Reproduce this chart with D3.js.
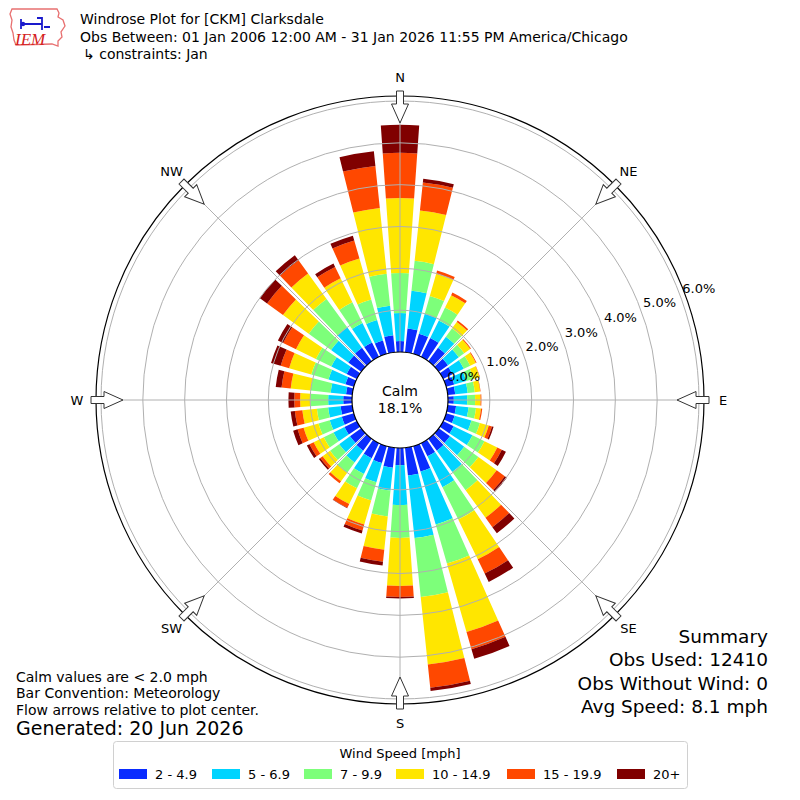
<!DOCTYPE html>
<html><head><meta charset="utf-8">
<script src="https://cdn.jsdelivr.net/npm/d3@7/dist/d3.min.js"></script>
<style>
body{margin:0;background:#fff}
svg{display:block}
text{font-family:"DejaVu Sans",sans-serif;fill:#000}
</style>
</head><body>
<svg id="chart" width="800" height="800"></svg>
<script>
// ---------------- DATA ----------------
const directions = [0,10,20,30,40,50,60,70,80,90,100,110,120,130,140,150,160,170,
                    180,190,200,210,220,230,240,250,260,270,280,290,300,310,320,330,340,350];
const speedBins = ["2 - 4.9","5 - 6.9","7 - 9.9","10 - 14.9","15 - 19.9","20+"];
const binColors = ["#0a2cff","#00d4ff","#7dff7a","#ffe600","#ff4800","#800000"];
// percent of observations per direction, per speed bin
const pct_2_4_9   = [0.26,0.57,0.50,0.50,0.40,0.27,0.25,0.20,0.18,0.14,0.20,0.21,0.28,0.33,0.35,0.35,0.63,0.67,
                     0.41,0.48,0.42,0.40,0.35,0.33,0.33,0.30,0.28,0.21,0.15,0.21,0.27,0.38,0.40,0.38,0.33,0.41];
const pct_5_6_9   = [0.67,0.91,0.50,0.47,0.32,0.32,0.30,0.30,0.30,0.32,0.30,0.42,0.50,0.42,0.63,0.82,1.32,1.50,
                     0.95,0.55,0.48,0.42,0.35,0.32,0.29,0.30,0.30,0.36,0.37,0.42,0.41,0.51,0.60,0.52,0.51,0.71];
const pct_7_9_9   = [0.96,0.72,0.44,0.34,0.25,0.16,0.17,0.18,0.17,0.19,0.18,0.21,0.32,0.42,0.54,0.86,0.97,1.42,
                     0.79,0.62,0.45,0.38,0.30,0.27,0.26,0.28,0.27,0.43,0.48,0.43,0.41,0.66,0.84,0.55,0.51,0.77];
const pct_10_14_9 = [1.79,1.21,0.55,0.33,0.19,0.18,0.15,0.15,0.13,0.13,0.12,0.22,0.34,0.54,0.81,1.06,1.70,1.62,
                     1.15,0.80,0.60,0.42,0.25,0.22,0.27,0.37,0.35,0.24,0.48,0.55,0.53,0.76,0.75,0.64,1.02,1.58];
const pct_15_19_9 = [1.08,0.67,0.08,0.07,0.04,0.02,0.02,0.01,0.01,0.02,0.03,0.08,0.12,0.24,0.28,0.38,0.43,0.56,
                     0.26,0.29,0.15,0.10,0.06,0.07,0.11,0.15,0.18,0.14,0.22,0.21,0.34,0.47,0.39,0.30,0.45,1.01];
const pct_20_plus = [0.67,0.09,0.00,0.00,0.00,0.00,0.00,0.00,0.00,0.00,0.00,0.04,0.11,0.06,0.18,0.22,0.24,0.08,
                     0.04,0.09,0.07,0.01,0.00,0.04,0.07,0.11,0.10,0.14,0.14,0.24,0.14,0.22,0.15,0.09,0.12,0.35];
const ringTicks = [0,1,2,3,4,5,6];
const compassLabels = ["N","NE","E","SE","S","SW","W","NW"];
const compassAngles = [0,45,90,135,180,225,270,315];
const calmPct = 18.1;
const titleLines = ["Windrose Plot for [CKM] Clarksdale",
  "Obs Between: 01 Jan 2006 12:00 AM - 31 Jan 2026 11:55 PM America/Chicago",
  "\u21b3 constraints: Jan"];
const noteLines = ["Calm values are < 2.0 mph","Bar Convention: Meteorology","Flow arrows relative to plot center."];
const generatedText = "Generated: 20 Jun 2026";
const summaryLines = ["Summary","Obs Used: 12410","Obs Without Wind: 0","Avg Speed: 8.1 mph"];

// ---------------- CHART ----------------
const svg = d3.select("#chart");
const cx = 400, cy = 400;
const series = [pct_2_4_9,pct_5_6_9,pct_7_9_9,pct_10_14_9,pct_15_19_9,pct_20_plus];
const keys = speedBins;
const rows = directions.map((d,i)=>{
  const o = {dir:d};
  keys.forEach((k,j)=>{o[k]=series[j][i];});
  return o;
});
const stacked = d3.stack().keys(keys)(rows);

const r = d3.scaleLinear().domain([0,6]).range([48,299]);
const outerR = 304;
const halfW = 4 * Math.PI/180;
const toRad = d => d*Math.PI/180;

const g = svg.append("g").attr("transform",`translate(${cx},${cy})`);

const arc = d3.arc();
stacked.forEach((layer,j)=>{
  g.append("g").selectAll("path").data(layer).join("path")
    .attr("d", d => arc({innerRadius:r(d[0]), outerRadius:r(d[1]),
        startAngle: toRad(d.data.dir)-halfW, endAngle: toRad(d.data.dir)+halfW}))
    .attr("fill", binColors[j]);
});

// grid rings
g.append("g").selectAll("circle").data(ringTicks.filter(t=>t>0)).join("circle")
  .attr("r", d=>r(d)).attr("fill","none").attr("stroke","#b0b0b0").attr("stroke-width",1);
// spokes
g.append("g").selectAll("line").data(compassAngles).join("line")
  .attr("x1", a=>r(0)*Math.sin(toRad(a))).attr("y1", a=>-r(0)*Math.cos(toRad(a)))
  .attr("x2", a=>outerR*Math.sin(toRad(a))).attr("y2", a=>-outerR*Math.cos(toRad(a)))
  .attr("stroke","#b0b0b0").attr("stroke-width",1);
// outer spine
g.append("circle").attr("r",outerR).attr("fill","none").attr("stroke","#000").attr("stroke-width",1.2);
// calm circle
g.append("circle").attr("r",r(0)).attr("fill","#fff").attr("stroke","#000").attr("stroke-width",1.2);
g.append("text").attr("x",0).attr("y",-9).attr("text-anchor","middle").attr("dominant-baseline","central")
  .style("font-size","14px").text("Calm");
g.append("text").attr("x",0).attr("y",8).attr("text-anchor","middle").attr("dominant-baseline","central")
  .style("font-size","14px").text(calmPct.toFixed(1)+"%");

// ring labels
const labA = toRad(69.5);
g.append("g").selectAll("text").data(ringTicks).join("text")
  .attr("x", t=>(r(t)+20)*Math.sin(labA)).attr("y", t=>-(r(t)+20)*Math.cos(labA))
  .attr("text-anchor","middle").attr("dominant-baseline","central")
  .style("font-size","13px").text(t=>t.toFixed(1)+"%");

// arrows
const arrowPath = "M-3.5,-309L3.5,-309L3.5,-296L8.5,-296L0,-277L-8.5,-296L-3.5,-296Z";
g.append("g").selectAll("path").data(compassAngles).join("path")
  .attr("d",arrowPath).attr("transform",a=>`rotate(${a})`)
  .attr("fill","#fff").attr("stroke","#333").attr("stroke-width",1);

// compass labels
g.append("g").selectAll("text").data(compassLabels).join("text")
  .attr("x",(d,i)=>323*Math.sin(toRad(compassAngles[i])))
  .attr("y",(d,i)=>-323*Math.cos(toRad(compassAngles[i])))
  .attr("text-anchor","middle").attr("dominant-baseline","central")
  .style("font-size","13px").text(d=>d);

// titles
svg.append("g").selectAll("text").data(titleLines).join("text")
  .attr("x",(d,i)=>i==2?83:80).attr("y",(d,i)=>19+i*17.5).attr("dominant-baseline","central")
  .style("font-size","14px").text(d=>d);

// logo
const logo = svg.append("g").attr("transform","translate(0,0)");
logo.append("path").attr("d","M12,9 L57,9 L59,13 L58,17 L63,20 L65,26 L61,32 L62,37 L58,41 L58,46 L52,44 L16,45 L14,40 L13,33 L11,27 L12,20 L10,14 Z")
  .attr("fill","none").attr("stroke","#e87070").attr("stroke-width",1.3);
logo.append("path").attr("d","M21,24 L42,24 M37,18 L42,18 L42,24 M42,24 L42,30 M21,19 L21,29 M44,27 L50,27")
  .attr("fill","none").attr("stroke","#1a1acc").attr("stroke-width",1.8);
logo.append("circle").attr("cx",23).attr("cy",24).attr("r",2.2).attr("fill","#1a1acc");
logo.append("text").attr("x",15).attr("y",45).style("font-family","'Liberation Serif',serif")
  .style("font-style","italic").style("font-size","17px").style("fill","#d42020").text("IEM");

// notes bottom-left
svg.append("g").selectAll("text").data(noteLines).join("text")
  .attr("x",16).attr("y",(d,i)=>[677,693,710][i]).attr("dominant-baseline","central")
  .style("font-size","14px").text(d=>d);
svg.append("text").attr("x",16).attr("y",728).attr("dominant-baseline","central")
  .style("font-size","19px").text(generatedText);

// summary
svg.append("g").selectAll("text").data(summaryLines).join("text")
  .attr("x",768).attr("y",(d,i)=>[636,659,683,706][i]).attr("text-anchor","end").attr("dominant-baseline","central")
  .style("font-size","18.5px").text(d=>d);

// legend
const lg = svg.append("g");
lg.append("rect").attr("x",113.5).attr("y",741.5).attr("width",574).attr("height",47).attr("rx",3)
  .attr("fill","#fff").attr("stroke","#d0d0d0");
lg.append("text").attr("x",400).attr("y",753).attr("text-anchor","middle").attr("dominant-baseline","central")
  .style("font-size","13px").text("Wind Speed [mph]");
const patchX = [119,212,304,396,507,617];
lg.selectAll("rect.p").data(speedBins).join("rect").attr("class","p")
  .attr("x",(d,i)=>patchX[i]).attr("y",769).attr("width",28).attr("height",10)
  .attr("fill",(d,i)=>binColors[i]);
lg.selectAll("text.l").data(speedBins).join("text").attr("class","l")
  .attr("x",(d,i)=>patchX[i]+36).attr("y",774).attr("dominant-baseline","central")
  .style("font-size","13px").text(d=>d);
</script>
</body></html>
